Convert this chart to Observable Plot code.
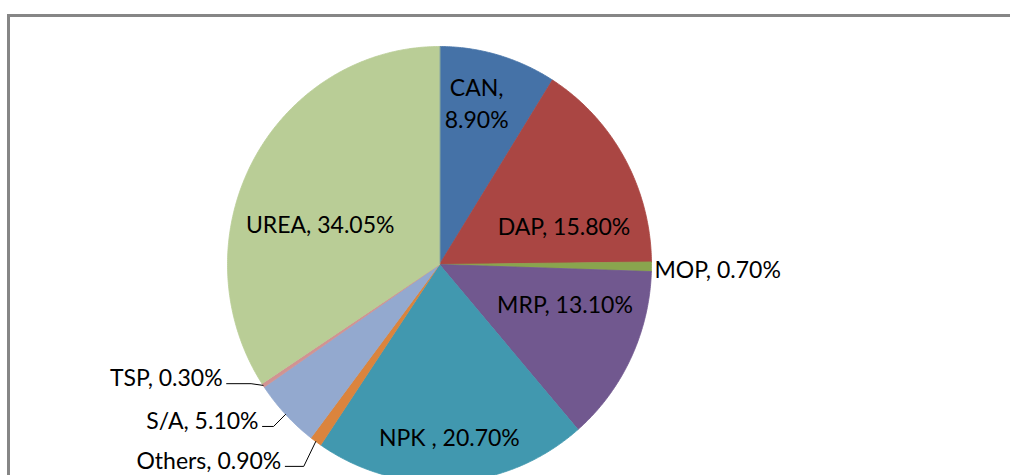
<!DOCTYPE html>
<html>
<head>
<meta charset="utf-8">
<script src="https://cdn.jsdelivr.net/npm/d3@7"></script>
<script src="https://cdn.jsdelivr.net/npm/@observablehq/plot@0.6"></script>
<style>
  html, body { margin: 0; padding: 0; background: #ffffff; }
  #chart { width: 1010px; height: 475px; overflow: hidden; }
</style>
</head>
<body>
<div id="chart"></div>
<script>
// ---- data ----
const categories = ["CAN", "DAP", "MOP", "MRP", "NPK", "Others", "S/A", "TSP", "UREA"];
const shares = [8.90, 15.80, 0.70, 13.10, 20.70, 0.90, 5.10, 0.30, 34.05];
const labels = ["CAN,\n8.90%", "DAP, 15.80%", "MOP, 0.70%", "MRP, 13.10%", "NPK , 20.70%",
                "Others, 0.90%", "S/A, 5.10%", "TSP, 0.30%", "UREA, 34.05%"];
const palette = ["#4572A7", "#AA4643", "#89A54E", "#71588F", "#4198AF",
                 "#DB843D", "#93A9CF", "#D19392", "#B9CD96"];

// ---- layout (not data) ----
const cx = 439, cy = 264, rx = 212, ry = 218;
// label placement in polar terms: angle (deg, clockwise from top), radius fraction, anchor
const labelPlacement = {
  "CAN":    {a: 13.2,  r: 0.768, anchor: "middle"},
  "DAP":    {a: 72.7,  r: 0.615, anchor: "middle"},
  "MOP":    {a: 90.8,  r: 1.014, anchor: "start"},
  "MRP":    {a: 106.4, r: 0.617, anchor: "middle"},
  "NPK":    {a: 176.6, r: 0.786, anchor: "middle"},
  "Others": {a: 220.0, r: 1.161, anchor: "end", leader: true},
  "S/A":    {a: 230.4, r: 1.108, anchor: "end", leader: true},
  "TSP":    {a: 243.5, r: 1.143, anchor: "end", leader: true},
  "UREA":   {a: 288.9, r: 0.595, anchor: "middle"}
};

const total = d3.sum(shares);
const rad = (deg) => deg * Math.PI / 180;

// slice polygons in unit coordinates (x = sin, y = cos; y up)
const slicePts = [];
const labelRows = [];
const leaderPts = [];
let acc = 0;
categories.forEach((name, i) => {
  const a0 = acc / total * 2 * Math.PI;
  acc += shares[i];
  const a1 = acc / total * 2 * Math.PI;
  slicePts.push({name, x: 0, y: 0});
  const n = Math.max(2, Math.ceil((a1 - a0) / rad(0.5)));
  for (let k = 0; k <= n; k++) {
    const a = a0 + (a1 - a0) * k / n;
    slicePts.push({name, x: Math.sin(a), y: Math.cos(a)});
  }
  const p = labelPlacement[name];
  const lx = p.r * Math.sin(rad(p.a)), ly = p.r * Math.cos(rad(p.a));
  labelRows.push({name, text: labels[i], x: lx, y: ly, anchor: p.anchor});
  if (p.leader) {
    const am = (a0 + a1) / 2;
    const ex = Math.sin(am), ey = Math.cos(am);
    const yy = ly - 8 / ry;
    leaderPts.push({name, x: lx + 4 / rx, y: yy});
    leaderPts.push({name, x: ex - 12 / rx, y: yy});
    leaderPts.push({name, x: ex, y: ey});
  }
});

const textOpts = {x: "x", y: "y", text: "text", fontSize: 23, fill: "#000000",
                  lineHeight: 1.4, fontFamily: "Lato"};

const chart = Plot.plot({
  width: 1010,
  height: 475,
  margin: 0,
  x: {domain: [-1, 1], range: [cx - rx, cx + rx], axis: null},
  y: {domain: [-1, 1], range: [cy + ry, cy - ry], axis: null},
  color: {domain: categories, range: palette},
  style: {background: "#ffffff", fontFamily: "Lato"},
  marks: [
    Plot.frame({stroke: "#868686", strokeWidth: 3, insetLeft: 8, insetTop: 15, insetRight: -20, insetBottom: -20}),
    Plot.line(slicePts, {x: "x", y: "y", z: "name", fill: "name", stroke: "name",
                         strokeWidth: 0.8, curve: "linear-closed"}),
    Plot.line(leaderPts, {x: "x", y: "y", z: "name", stroke: "#000000", strokeWidth: 1}),
    Plot.text(labelRows.filter(d => d.anchor === "middle"), {...textOpts, textAnchor: "middle"}),
    Plot.text(labelRows.filter(d => d.anchor === "start"), {...textOpts, textAnchor: "start"}),
    Plot.text(labelRows.filter(d => d.anchor === "end"), {...textOpts, textAnchor: "end"})
  ]
});
document.getElementById("chart").appendChild(chart);
</script>
</body>
</html>
